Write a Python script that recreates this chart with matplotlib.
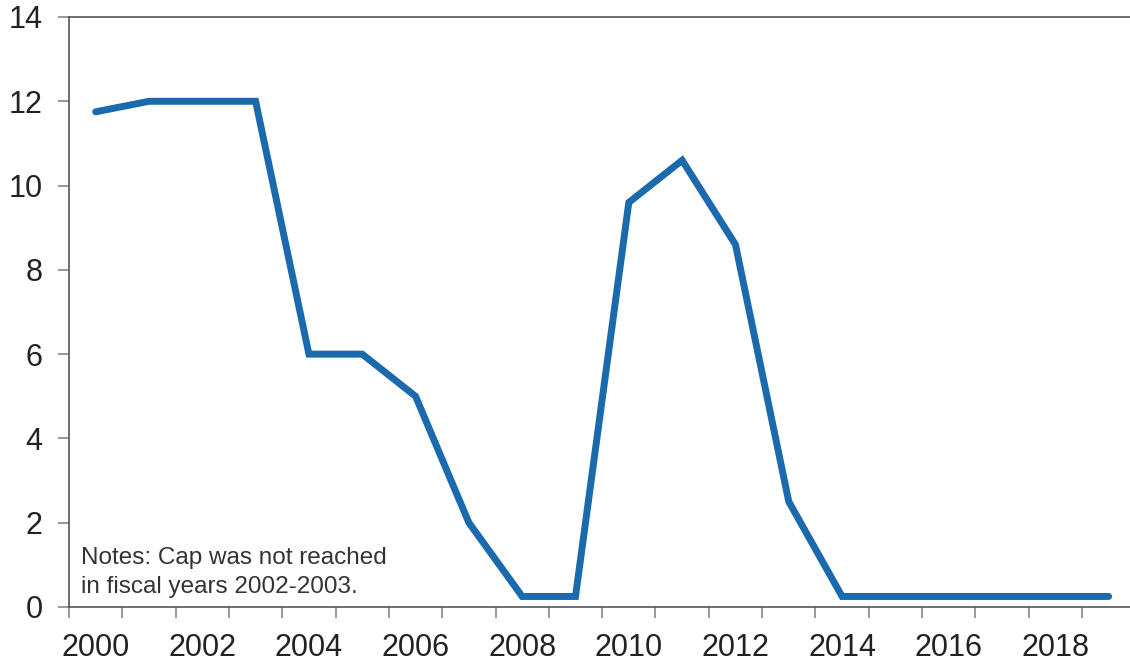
import matplotlib
matplotlib.use("Agg")
from matplotlib import pyplot as plt
from matplotlib.ticker import MultipleLocator, FixedLocator

years = list(range(2000, 2020))
values = [11.75, 12, 12, 12, 6, 6, 5, 2, 0.25, 0.25,
          9.6, 10.6, 8.6, 2.5, 0.25, 0.25, 0.25, 0.25, 0.25, 0.25]
note = "Notes: Cap was not reached\nin fiscal years 2002-2003."

plt.rcParams['font.family'] = ['Liberation Sans', 'DejaVu Sans']

fig = plt.figure(figsize=(11.3, 6.63), dpi=100)
ax = fig.add_axes([69 / 1130, 1 - 607 / 663, (1130 - 69) / 1130, (607 - 17) / 663])

pos = [y - years[0] for y in years]
ax.plot(pos, values, color='#1a6aad', linewidth=5, solid_joinstyle='miter',
        solid_capstyle='round')

ax.set_xlim(-0.5, 19.4)
ax.set_ylim(0, 14)
ax.yaxis.set_major_locator(MultipleLocator(2))

# ticks between categories, labels at category centres
ax.xaxis.set_major_locator(FixedLocator([p for p in pos if p % 2 == 0]))
ax.set_xticklabels([str(y) for y in years if (y - years[0]) % 2 == 0])
ax.xaxis.set_minor_locator(FixedLocator([p - 0.5 for p in pos] + [pos[-1] + 0.5]))
ax.tick_params(axis='x', which='major', length=0, pad=19, labelsize=22, colors='#222222')
ax.tick_params(axis='x', which='minor', length=8, width=1.2, color='#888888', direction='out')
ax.tick_params(axis='y', length=8, width=1.2, color='#888888', labelsize=22,
               labelcolor='#222222', pad=11)

for side in ['left', 'bottom', 'top']:
    ax.spines[side].set_color('#555555')
    ax.spines[side].set_linewidth(1.2)
ax.spines['right'].set_visible(False)

ax.text(0.011, 0.024, note, transform=ax.transAxes, fontsize=17.5, color='#333333',
        va='baseline', ha='left', linespacing=1.4)

fig.savefig('out.png', dpi=100)
